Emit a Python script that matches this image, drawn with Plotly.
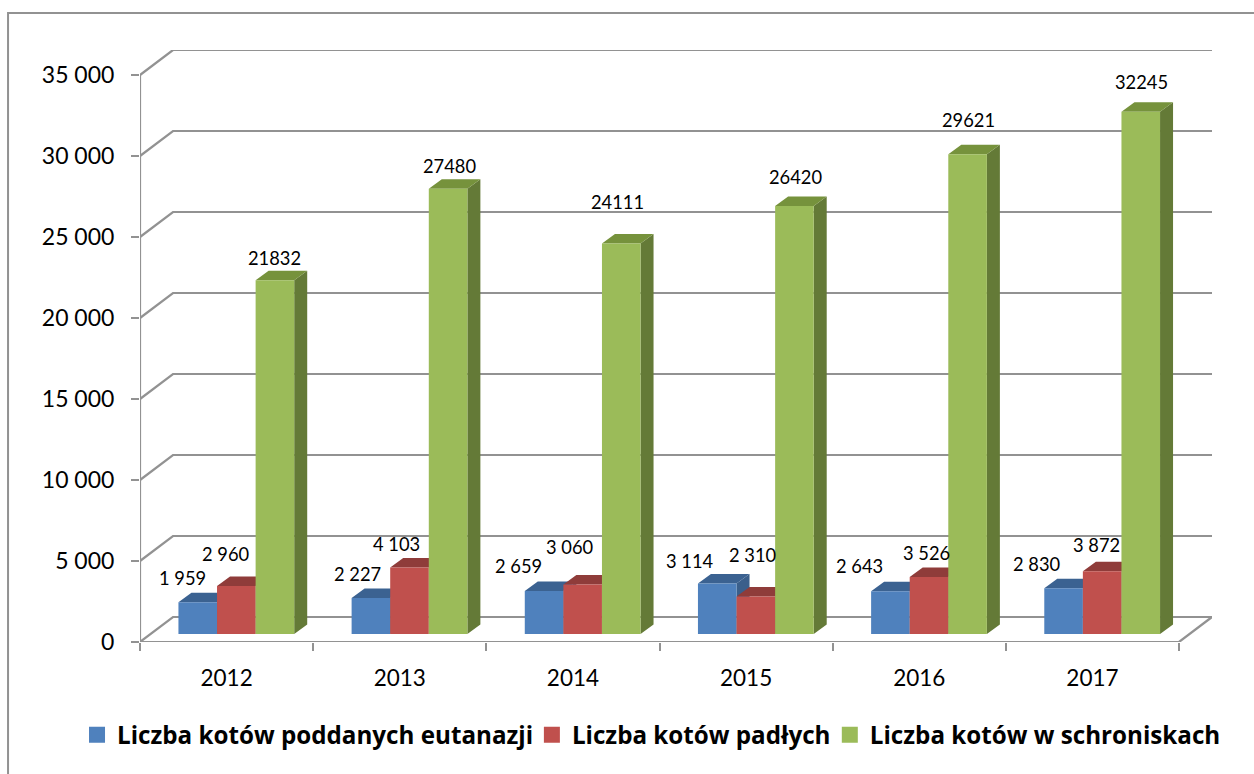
import numpy as np
import plotly.graph_objects as go

# --- data -------------------------------------------------------------
years = ["2012", "2013", "2014", "2015", "2016", "2017"]
euthanized = [1959, 2227, 2659, 3114, 2643, 2830]
dead = [2960, 4103, 3060, 2310, 3526, 3872]
sheltered = [21832, 27480, 24111, 26420, 29621, 32245]
y_ticks = [0, 5000, 10000, 15000, 20000, 25000, 30000, 35000]
names = ["Liczba kotów poddanych eutanazji", "Liczba kotów padłych", "Liczba kotów w schroniskach"]

# --- style ------------------------------------------------------------
W, H = 1254, 774
L, R, T, B = 140, 1179.3, 75, 642        # front plot box, pixels
DEPTH_X, DEPTH_Y = 33, 25                # depth of the box, pixels
FONT = "Lato"
GRID = "#929292"
front = ["#4f81bd", "#c0504d", "#9bbb59"]
top = ["#3b6291", "#8f3c3a", "#76923c"]
side = ["#3a5f8b", "#8e3b39", "#647a37"]
legend_left = [77, 532, 830]             # pixels

ymax = 35000
ux = (R - L) / len(years)                # pixels per category
uy = (B - T) / ymax                      # pixels per value unit
wall_dx, wall_dy = DEPTH_X / ux, DEPTH_Y / uy
bar_w = 38.6 / ux
bar_start = -0.278
bar_base = 8 / uy
bar_dx, bar_dy = 13 / ux, 9.5 / uy       # depth of a bar

# label shifts in pixels (hand placed in the source chart)
label_dx = [[-15, -13, -26, -28, -31, -27], [-11, -13, -13, -3, -3, -6], [0, 1, -4, 1, 1, 1]]
label_dy = [[24, 24, 25, 23, 25, 24], [32, 24, 37, 42, 24, 26], [22, 23, 41, 29, 34, 30]]

series = [euthanized, dead, sheltered]
idx = np.arange(len(years))
fig = go.Figure()

# box: back wall lines, left-wall diagonals, front axis lines
x0, x1 = -0.5, len(years) - 0.5
xr = [x0, x1 + wall_dx]
yr = [0, ymax + wall_dy]
gx, gy = [], []
for v in y_ticks:
    gx += [x0, x0 + wall_dx, x1 + wall_dx, None]
    gy += [v, v + wall_dy, v + wall_dy, None]
gx += [x1 + wall_dx, x1, x0, x0, None]
gy += [wall_dy, 0, 0, ymax, None]
fig.add_trace(go.Scatter(x=gx, y=gy, mode="lines", line=dict(color=GRID, width=2.2),
                         cliponaxis=False, showlegend=False, hoverinfo="skip"))


def faces(i, vals):
    sx, sy, tx, ty = [], [], [], []
    for k, v in enumerate(vals):
        a = k + bar_start + i * bar_w
        b = a + bar_w
        t = bar_base + v
        sx += [b, b + bar_dx, b + bar_dx, b, b, None]
        sy += [bar_base, bar_base + bar_dy, t + bar_dy, t, bar_base, None]
        tx += [a, b, b + bar_dx, a + bar_dx, a, None]
        ty += [t, t, t + bar_dy, t + bar_dy, t, None]
    return sx, sy, tx, ty


for i, vals in enumerate(series):
    sx, sy, tx, ty = faces(i, vals)
    for fx, fy, col in ((sx, sy, side[i]), (tx, ty, top[i])):
        fig.add_trace(go.Scatter(x=fx, y=fy, mode="lines", fill="toself", fillcolor=col,
                                 line=dict(width=0, color=col), cliponaxis=False,
                                 showlegend=False, hoverinfo="skip"))

# front faces, on an overlaying axis pair so that they paint over the other faces
for i, vals in enumerate(series):
    fig.add_trace(go.Bar(x=idx, y=vals, base=bar_base, width=bar_w,
                         offset=bar_start + i * bar_w, marker=dict(color=front[i], line=dict(width=0)),
                         xaxis="x2", yaxis="y2", cliponaxis=False, showlegend=False, name=names[i]))

# legend entries, one legend each so that every entry sits at its own place
for i, n in enumerate(names):
    fig.add_trace(go.Scatter(x=[None], y=[None], mode="markers", name=n,
                             legend="legend" if i == 0 else f"legend{i + 1}",
                             marker=dict(symbol="square", size=17, color=front[i])))

# data labels
ann = []
for i, vals in enumerate(series):
    for k, v in enumerate(vals):
        txt = str(v) if i == 2 else f"{v:,}".replace(",", " ")
        ann.append(dict(x=k + bar_start + (i + 0.5) * bar_w, y=bar_base + v, xref="x", yref="y",
                        text=txt, showarrow=False, xanchor="center", yanchor="middle",
                        xshift=label_dx[i][k], yshift=label_dy[i][k],
                        font=dict(family=FONT, size=18.3, color="#000")))

PL, PR, PT, PB = L, R + DEPTH_X, T - DEPTH_Y, B      # full plot area, pixels
px = lambda p: (p - PL) / (PR - PL)
py = lambda p: (PB - p) / (PB - PT)
frame = dict(type="path", xref="paper", yref="paper",
             path=f"M {px(8)} {py(780)} L {px(8)} {py(13)} L {px(1260)} {py(13)}",
             line=dict(color=GRID, width=2))


def legend_at(left):
    return dict(orientation="h", x=px(left), y=py(735), xanchor="left", yanchor="middle",
                font=dict(family="Open Sans", size=24.2, weight="bold", color="#000"),
                itemclick=False, itemdoubleclick=False, bgcolor="rgba(0,0,0,0)")


fig.update_layout(
    width=W, height=H, margin=dict(l=PL, r=W - PR, t=PT, b=H - PB),
    paper_bgcolor="white", plot_bgcolor="white", separators=", ",
    barmode="overlay", shapes=[frame], annotations=ann,
    font=dict(family=FONT, color="#000"),
    legend=legend_at(legend_left[0]), legend2=legend_at(legend_left[1]), legend3=legend_at(legend_left[2]),
    xaxis=dict(range=xr, showgrid=False, zeroline=False, showline=False,
               tickmode="array", tickvals=list(np.arange(len(years) + 1) - 0.5), ticktext=[""] * (len(years) + 1),
               ticks="outside", ticklen=8, tickwidth=2, tickcolor=GRID),
    yaxis=dict(range=yr, showgrid=False, zeroline=False, showline=False,
               tickmode="array", tickvals=y_ticks, tickformat=",d", ticks="outside", ticklen=8, tickwidth=2,
               tickcolor=GRID, tickfont=dict(family=FONT, size=23, color="#000"), ticklabelstandoff=12),
    xaxis2=dict(range=xr, overlaying="x", side="bottom", anchor="y2", showgrid=False, zeroline=False,
                showline=False, tickmode="array", tickvals=list(idx), ticktext=years,
                ticks="outside", ticklen=16, tickcolor="rgba(0,0,0,0)",
                tickfont=dict(family=FONT, size=22.5, color="#000")),
    yaxis2=dict(range=yr, overlaying="y", anchor="x2", visible=False),
)

fig.write_html("out.html", config=dict(displayModeBar=False),
               post_script="document.body.style.margin='0';document.body.style.overflow='hidden';")
